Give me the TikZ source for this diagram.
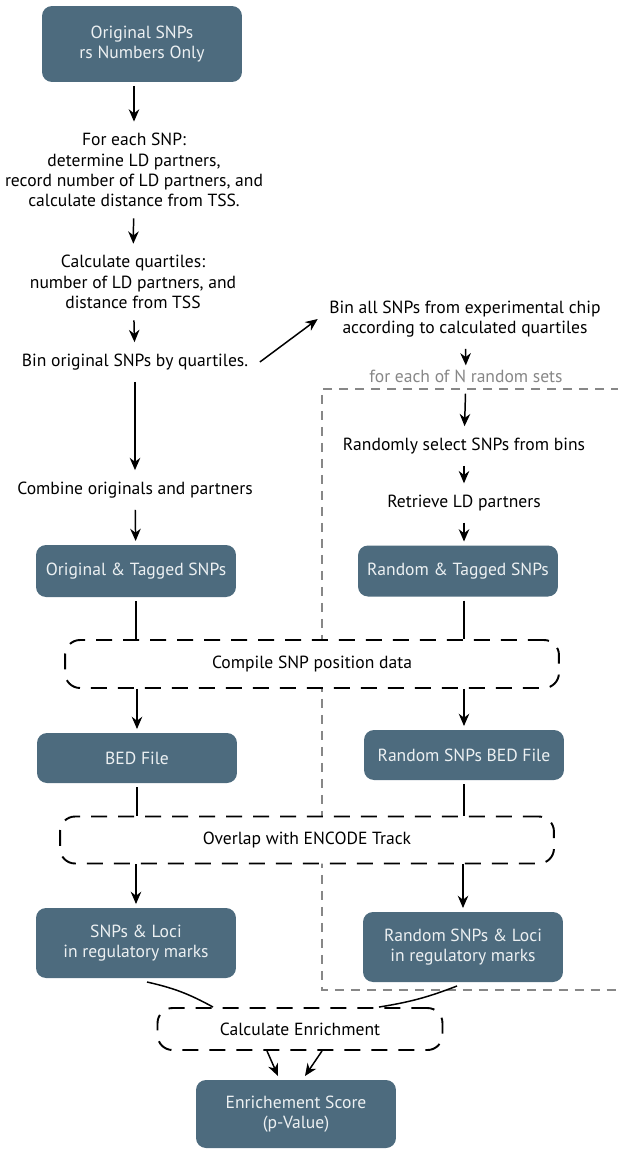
\documentclass[tikz,border=0pt]{standalone}
\usepackage{fontspec}
\setmainfont{PT Sans}
\usetikzlibrary{arrows.meta}
\definecolor{boxblue}{RGB}{77,107,126}
\definecolor{boxtext}{RGB}{236,240,242}
\definecolor{loopgray}{RGB}{135,135,135}

\begin{document}
\begin{tikzpicture}[x=0.02cm, y=-0.02cm,
  font=\fontsize{10}{11.5}\selectfont,
  stepbox/.style={rectangle, rounded corners=0.2cm, fill=boxblue, text=boxtext, minimum width=4cm, align=center, outer sep=0.08cm},
  note/.style={align=center, inner sep=1pt, outer sep=0.2cm},
  passbox/.style={rectangle, rounded corners=0.3cm, draw, fill=white, line width=1.1pt, dash pattern=on 0.32cm off 0.22cm},
  arrow/.style={-{Stealth[length=7pt,width=6pt]}, line width=0.85pt},
  link/.style={line width=0.85pt},
  loopline/.style={draw=loopgray, line width=0.6pt, dash pattern=on 0.18cm off 0.14cm}]
\useasboundingbox (0,0) rectangle (618,1150);

% Random loop region
\coordinate (looptop) at (620,389);
\coordinate (loopbot) at (620,990);
\draw[loopline] (looptop) -| (322,990) -- (loopbot);

% Original side
\node[stepbox, minimum height=1.52cm] (orig) at (142,44) {Original SNPs\\rs Numbers Only};
\node[note] (each) at (134,170) {For each SNP:\\determine LD partners,\\record number of LD partners, and\\calculate distance from TSS.};
\node[note] (quart) at (133,282) {Calculate quartiles:\\number of LD partners, and\\distance from TSS};
\node[note] (binorig) at (135,362) {Bin original SNPs by quartiles.};
\node[note] (combine) at (135,490) {Combine originals and partners};
\node[stepbox, minimum height=1.04cm] (origtag) at (136,571) {Original \& Tagged SNPs};
\node[stepbox, minimum height=1cm] (bed) at (137,758) {BED File};
\node[stepbox, minimum height=1.4cm] (loci) at (136,943) {SNPs \& Loci\\in regulatory marks};

% Random side
\node[note] (binall) at (465,319) {Bin all SNPs from experimental chip\\according to calculated quartiles};
\node[note, text=loopgray, outer sep=0.05cm] (foreach) at (466,376) {for each of N random sets};
\node[note] (randsel) at (464,446) {Randomly select SNPs from bins};
\node[note] (retrieve) at (464,503) {Retrieve LD partners};
\node[stepbox, minimum height=1.02cm] (randtag) at (458,571) {Random \& Tagged SNPs};
\node[stepbox, minimum height=1cm] (randbed) at (464,755) {Random SNPs BED File};
\node[stepbox, minimum height=1.4cm] (randloci) at (463,947) {Random SNPs \& Loci\\in regulatory marks};

% Shared steps
\node[passbox, minimum width=9.88cm, minimum height=0.96cm] (compile) at (312,664) {Compile SNP position data};
\node[passbox, minimum width=9.88cm, minimum height=0.94cm] (overlap) at (307,840) {Overlap with ENCODE Track};
\node[passbox, minimum width=5.7cm, minimum height=0.84cm] (calc) at (300,1029) {Calculate Enrichment};
\node[stepbox, minimum height=1.36cm] (score) at (296,1114) {Enrichement Score\\(p-Value)};

% Connections, original side
\draw[arrow] (each |- orig.south) -- (each);
\draw[arrow] (each) -- (quart);
\draw[arrow] (quart) -- (binorig);
\draw[arrow] (binorig) -- (combine);
\draw[arrow] (combine) -- (origtag);
\draw[link] (origtag) -- (origtag |- compile.north);
\draw[arrow] (bed |- compile.south) -- (bed);
\draw[link] (bed) -- (bed |- overlap.north);
\draw[arrow] (loci |- overlap.south) -- (loci);
\draw[link] ([xshift=0.22cm]loci.south) to[bend left=8] ([xshift=-1.74cm]calc.north);

% Connections, random side
\draw[arrow] (binorig.east) -- (binall.west);
\draw[arrow] (binall) -- (foreach);
\draw[arrow, shorten <=4pt] (foreach) -- (randsel);
\draw[arrow] (randsel) -- (retrieve);
\draw[arrow] (retrieve) -- (retrieve |- randtag.north);
\draw[link] (randbed |- randtag.south) -- (randbed |- compile.north);
\draw[arrow] (randbed |- compile.south) -- (randbed);
\draw[link] (randbed) -- (randbed |- overlap.north);
\draw[arrow] (randloci |- overlap.south) -- (randloci);
\draw[link] ([xshift=-0.12cm]randloci.south) to[bend left=6] ([xshift=1.58cm]calc.north);

% Score
\draw[arrow] ([xshift=-0.66cm]calc.south) -- ([xshift=-0.36cm]score.north);
\draw[arrow] ([xshift=0.44cm]calc.south) -- ([xshift=0.18cm]score.north);
\end{tikzpicture}
\end{document}
